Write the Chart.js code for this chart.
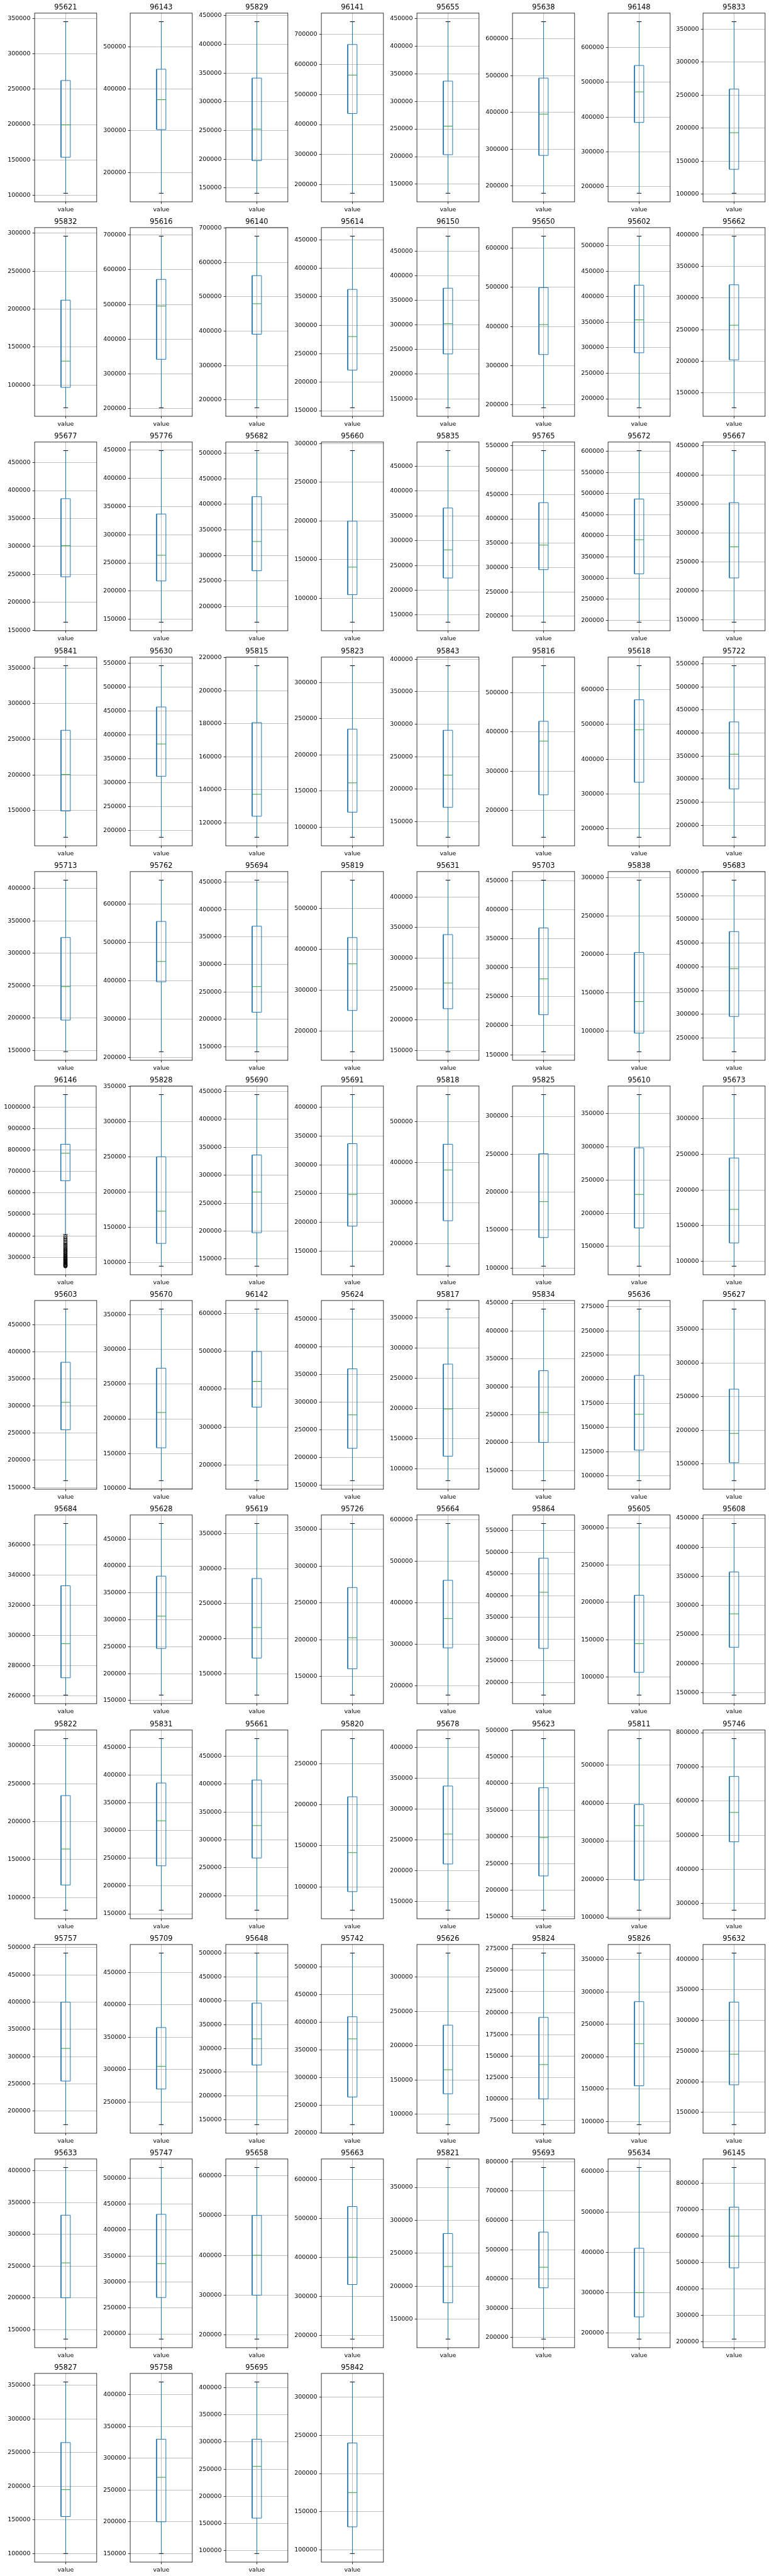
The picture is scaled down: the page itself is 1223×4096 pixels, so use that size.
<!DOCTYPE html>
<html>
<head>
<meta charset="utf-8">
<script src="https://cdn.jsdelivr.net/npm/chart.js@4.4.1/dist/chart.umd.min.js"></script>
<style>
  html, body { margin: 0; padding: 0; background: #fff; }
  #grid { position: relative; width: 1223px; height: 4096px; overflow: hidden; }
  #grid canvas { position: absolute; }
</style>
</head>
<body>
<div id="grid"></div>
<script>
// Per-zip price box plots (pandas-style df.boxplot grid, 8 per row).
const zips = [
  '95621', '96143', '95829', '96141', '95655', '95638', '96148', '95833',
  '95832', '95616', '96140', '95614', '96150', '95650', '95602', '95662',
  '95677', '95776', '95682', '95660', '95835', '95765', '95672', '95667',
  '95841', '95630', '95815', '95823', '95843', '95816', '95618', '95722',
  '95713', '95762', '95694', '95819', '95631', '95703', '95838', '95683',
  '96146', '95828', '95690', '95691', '95818', '95825', '95610', '95673',
  '95603', '95670', '96142', '95624', '95817', '95834', '95636', '95627',
  '95684', '95628', '95619', '95726', '95664', '95864', '95605', '95608',
  '95822', '95831', '95661', '95820', '95678', '95623', '95811', '95746',
  '95757', '95709', '95648', '95742', '95626', '95824', '95826', '95632',
  '95633', '95747', '95658', '95663', '95821', '95693', '95634', '96145',
  '95827', '95758', '95695', '95842',
];

const whisLo = [
  102600, 150800, 140600, 171400, 133700, 180400, 181000, 101500,
  70100, 201700, 177400, 155200, 131800, 192400, 182400, 126300,
  164600, 144700, 169600, 69100, 135500, 187700, 195800, 145900,
  112500, 186300, 111300, 86000, 126100, 131500, 175400, 174100,
  148200, 215600, 141300, 148800, 148100, 155200, 73500, 221000,
  406000, 94900, 137200, 124100, 144000, 102400, 120300, 93300,
  162500, 111200, 159100, 158600, 80200, 131800, 95100, 125100,
  260400, 160000, 119200, 124800, 176900, 171100, 76000, 145900,
  83400, 156500, 174200, 71500, 136400, 162400, 118900, 280700,
  175000, 215000, 140000, 215000, 85000, 70000, 95000, 130000,
  135000, 190000, 190000, 190000, 120000, 195000, 185000, 210000,
  100000, 150000, 95000, 95000,
];
const q1 = [
  153600, 302900, 197400, 436700, 203400, 283200, 384500, 137800,
  96900, 341500, 391200, 221300, 241100, 328200, 290200, 202100,
  245800, 217900, 270000, 104600, 224700, 295700, 310200, 222200,
  149400, 313800, 124000, 120700, 172100, 239600, 333500, 279000,
  197000, 397700, 213000, 249800, 218100, 219100, 97700, 295400,
  657100, 127200, 197100, 193600, 256000, 140200, 177900, 125900,
  256200, 158400, 352800, 216900, 120800, 200400, 126600, 151800,
  271900, 246700, 172200, 160600, 291000, 278700, 106400, 228100,
  116600, 236600, 267600, 94100, 211300, 226600, 197600, 480700,
  255000, 270000, 265000, 265000, 130000, 100000, 155000, 195000,
  200000, 270000, 300000, 330000, 175000, 370000, 240000, 480000,
  155000, 200000, 160000, 130000,
];
const median = [
  199500, 374300, 252400, 564400, 255100, 395700, 472400, 193200,
  131500, 495200, 479800, 280100, 302600, 404600, 354700, 257000,
  301400, 263500, 327200, 140200, 281500, 346100, 390800, 275800,
  200600, 381300, 137300, 161200, 221700, 376600, 484800, 354200,
  248700, 450600, 259800, 363900, 259900, 280900, 138900, 396200,
  785300, 173000, 269900, 248500, 381200, 187500, 228400, 172800,
  306800, 209100, 420500, 277300, 199200, 253900, 163700, 195300,
  294500, 306700, 215800, 202800, 361700, 408100, 144800, 285600,
  164000, 317900, 325500, 141700, 260000, 298600, 340900, 566700,
  315000, 305000, 320000, 370000, 165000, 140000, 220000, 245000,
  255000, 335000, 400000, 400000, 230000, 440000, 300000, 600000,
  195000, 270000, 255000, 175000,
];
const q3 = [
  262400, 447100, 341300, 666100, 336500, 493500, 548300, 259200,
  211800, 572300, 561500, 362900, 374700, 499200, 422700, 321100,
  385500, 336800, 414800, 199600, 365900, 433300, 486900, 352100,
  262700, 458800, 180700, 235500, 290600, 426900, 570800, 424200,
  324400, 554900, 369600, 428300, 338700, 368600, 202700, 474400,
  827100, 250200, 336200, 336700, 444500, 250600, 298600, 244800,
  380600, 272700, 499200, 360400, 273600, 328900, 203900, 261100,
  333000, 381100, 285900, 271100, 454200, 486600, 209600, 357500,
  234400, 386100, 407100, 209800, 337700, 392000, 396100, 671900,
  400000, 365000, 395000, 410000, 230000, 195000, 285000, 330000,
  330000, 430000, 500000, 530000, 280000, 560000, 410000, 710000,
  265000, 330000, 305000, 240000,
];
const whisHi = [
  345700, 560500, 439500, 741900, 443900, 646700, 674100, 361200,
  296100, 697100, 676200, 456300, 480400, 630500, 518800, 398100,
  471400, 449300, 504700, 290700, 481800, 540200, 601400, 441800,
  353400, 545000, 215100, 323100, 389900, 568500, 668800, 546100,
  412900, 662300, 453300, 568800, 427200, 451000, 296900, 582800,
  1058600, 338500, 444300, 421800, 566800, 328600, 378800, 333500,
  478600, 357700, 611000, 468300, 364900, 439300, 272500, 380200,
  374300, 478900, 364500, 358100, 591300, 566500, 305600, 440800,
  309500, 466200, 481100, 280700, 414600, 484200, 569300, 782500,
  490000, 480000, 500000, 525000, 335000, 270000, 360000, 410000,
  405000, 520000, 620000, 630000, 380000, 780000, 610000, 860000,
  355000, 420000, 410000, 320000,
];

// Only 96146 has fliers (low-side outliers).
const outlierZip = '96146';
const outliers = [
  258400, 260000, 262000, 264500, 267000, 270000, 273000, 276000, 280000, 283000,
  287000, 290000, 294000, 298000, 302000, 306000, 310000, 315000, 320000, 325000,
  330000, 335000, 340000, 346000, 352000, 358000, 365000, 372000, 380000, 388000, 396000,
];

// Geometry in reference pixels, scaled to the window.
const S = 1223 / 1288;
const COLS = 8;
const CELL_W = 160, CELL_H = 4312 / 12;
const AX_L = 58, AX_T = 22, AX_W = 104, AX_H = 316;
const BOX_W = 0.15, CAP_W = 0.075;
const FONT = "'DejaVu Sans', sans-serif";
const BLUE = '#1f77b4', GREEN = '#2ca02c', GRID = '#b0b0b0';

// matplotlib MaxNLocator-ish: nbins 9, steps 1/2/2.5/5/10.
function niceTicks(min, max) {
  const raw = (max - min) / 9;
  const scale = Math.pow(10, Math.floor(Math.log10(raw)));
  const steps = [1, 2, 2.5, 5, 10];
  const step = steps.find((st) => st * scale >= raw - 1e-9) * scale;
  const out = [];
  for (let k = Math.ceil(min / step - 1e-9); k * step <= max + 1e-9; k++) {
    out.push({ value: Math.round(k * step) });
  }
  return out;
}

// All four spines, drawn over the data like matplotlib.
const frame = {
  id: 'frame',
  afterDatasetsDraw(chart) {
    const { ctx, chartArea: a } = chart;
    ctx.save();
    ctx.strokeStyle = '#000';
    ctx.lineWidth = 0.8;
    ctx.strokeRect(a.left, a.top, a.right - a.left, a.bottom - a.top);
    ctx.restore();
  },
};

function seg(points, color, width) {
  return {
    data: points, showLine: true, borderColor: color, borderWidth: width,
    pointRadius: 0, tension: 0, fill: false,
  };
}

function makeBox(i) {
  const zip = zips[i];
  const col = i % COLS, row = Math.floor(i / COLS);
  const cw = Math.round(166 * S), ch = Math.round(CELL_H * S);

  const canvas = document.createElement('canvas');
  canvas.width = cw;
  canvas.height = ch;
  canvas.style.left = Math.round(col * CELL_W * S) + 'px';
  canvas.style.top = Math.round(row * CELL_H * S) + 'px';
  canvas.style.width = cw + 'px';
  canvas.style.height = ch + 'px';
  document.getElementById('grid').appendChild(canvas);

  const flier = zip === outlierZip ? outliers : [];
  const lo = Math.min(whisLo[i], ...flier);
  const hi = Math.max(whisHi[i], ...flier);
  const pad = (hi - lo) * 0.05;

  const l = 1 - BOX_W / 2, r = 1 + BOX_W / 2;
  const datasets = [
    seg([{ x: l, y: q1[i] }, { x: r, y: q1[i] }, { x: r, y: q3[i] }, { x: l, y: q3[i] }, { x: l, y: q1[i] }], BLUE, 1),
    seg([{ x: l, y: median[i] }, { x: r, y: median[i] }], GREEN, 1),
    seg([{ x: 1, y: whisLo[i] }, { x: 1, y: q1[i] }], BLUE, 1),
    seg([{ x: 1, y: q3[i] }, { x: 1, y: whisHi[i] }], BLUE, 1),
    seg([{ x: 1 - CAP_W / 2, y: whisLo[i] }, { x: 1 + CAP_W / 2, y: whisLo[i] }], '#000', 1),
    seg([{ x: 1 - CAP_W / 2, y: whisHi[i] }, { x: 1 + CAP_W / 2, y: whisHi[i] }], '#000', 1),
  ];
  if (flier.length) {
    datasets.push({
      data: flier.map((v) => ({ x: 1, y: v })), showLine: false,
      pointRadius: 3 * S, pointBorderWidth: 1, pointBorderColor: '#000',
      pointBackgroundColor: 'rgba(0,0,0,0)',
    });
  }

  const tickFont = { family: FONT, size: 10 * S };
  const titleSize = 12 * S;
  const titleTop = 12.5 * S - titleSize * 0.6;

  new Chart(canvas.getContext('2d'), {
    type: 'scatter',
    data: { datasets },
    options: {
      responsive: false,
      animation: false,
      devicePixelRatio: 1,
      events: [],
      layout: { padding: { left: 0, top: 0, bottom: 0, right: cw - (AX_L + AX_W) * S } },
      plugins: {
        legend: { display: false },
        tooltip: { enabled: false },
        title: {
          display: true,
          fullSize: false,
          align: 'center',
          text: zip,
          color: '#000',
          font: { family: FONT, size: titleSize, weight: 'normal', lineHeight: 1.2 },
          padding: { top: titleTop, bottom: AX_T * S - titleTop - titleSize * 1.2 },
        },
      },
      scales: {
        x: {
          type: 'linear',
          min: 0.5,
          max: 1.5,
          afterBuildTicks: (s) => { s.ticks = [{ value: 1 }]; },
          afterFit: (s) => { s.height = ch - (AX_T + AX_H) * S; },
          ticks: { callback: () => 'value', color: '#000', font: tickFont, padding: 3.5 * S, maxRotation: 0, autoSkip: false },
          grid: { color: GRID, lineWidth: 0.8, tickColor: '#000', tickLength: 3.5 * S, tickWidth: 0.8 },
          border: { display: false },
        },
        y: {
          min: lo - pad,
          max: hi + pad,
          afterBuildTicks: (s) => { s.ticks = niceTicks(s.min, s.max); },
          afterFit: (s) => { s.width = AX_L * S; },
          ticks: { callback: (v) => String(Math.round(v)), color: '#000', font: tickFont, padding: 3.5 * S, autoSkip: false },
          grid: { color: GRID, lineWidth: 0.8, tickColor: '#000', tickLength: 3.5 * S, tickWidth: 0.8 },
          border: { display: false },
        },
      },
    },
    plugins: [frame],
  });
}

zips.forEach((_, i) => makeBox(i));
</script>
</body>
</html>
